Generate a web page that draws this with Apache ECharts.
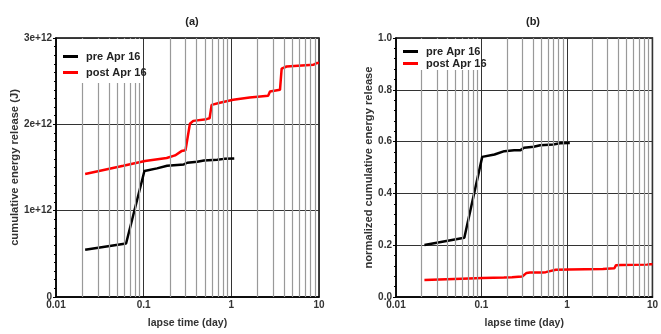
<!DOCTYPE html>
<html><head><meta charset="utf-8">
<script src="https://cdn.jsdelivr.net/npm/echarts@6/dist/echarts.min.js"></script>
<style>html,body{margin:0;padding:0;background:#fff}#c{width:661px;height:334px}</style>
</head><body><div id="c"></div>
<script>
// ---- data ----
const preTime   = [0.0215, 0.063, 0.102, 0.142, 0.185, 0.241, 0.287, 0.314, 0.408, 0.487, 0.69, 0.826, 1.08];
const preEnergy = [0.547, 0.619, 1.46, 1.49, 1.52, 1.53, 1.535, 1.555, 1.567, 1.58, 1.59, 1.60, 1.605]; // x 1e12 J
const preNorm   = [0.201, 0.229, 0.541, 0.550, 0.563, 0.567, 0.567, 0.576, 0.580, 0.586, 0.589, 0.594, 0.595];

const postTime   = [0.0215, 0.0586, 0.1035, 0.183, 0.228, 0.27, 0.30, 0.337, 0.368, 0.52, 0.565, 0.596, 0.74, 1.05, 1.62, 2.63, 2.76, 3.59, 3.75, 4.27, 8.6, 9.4, 10];
const postEnergy = [1.425, 1.52, 1.575, 1.61, 1.64, 1.69, 1.70, 2.007, 2.04, 2.06, 2.07, 2.225, 2.25, 2.285, 2.31, 2.33, 2.38, 2.40, 2.645, 2.67, 2.69, 2.71, 2.71]; // x 1e12 J
const postNorm   = [0.066, 0.0705, 0.073, 0.075, 0.076, 0.078, 0.079, 0.093, 0.095, 0.095, 0.096, 0.103, 0.105, 0.106, 0.107, 0.108, 0.110, 0.111, 0.123, 0.124, 0.125, 0.126, 0.126];

const seriesNames = ['pre Apr 16', 'post Apr 16'];
const panelTitles = ['(a)', '(b)'];
const xTitle = 'lapse time (day)';
const yTitles = ['cumulative energy release (J)', 'normalized cumulative energy release'];
const minorX = [];
[0.01, 0.1, 1].forEach(d => { for (let k = 2; k <= 9; k++) minorX.push(+(d * k).toPrecision(2)); });

// ---- chart ----
const chart = echarts.init(document.getElementById('c'));
const FONT = 'Liberation Sans, Arial, sans-serif';
const pairs = (xs, ys, s) => xs.map((x, i) => [x, ys[i] * s]);

const xAxisBase = (gi) => ({
  type: 'log', logBase: 10, gridIndex: gi, min: 0.01, max: 10,
  name: xTitle, nameLocation: 'middle', nameGap: 21,
  nameTextStyle: { fontFamily: FONT, fontWeight: 'bold', fontSize: 10.5, color: '#333' },
  axisLine: { show: true, lineStyle: { color: '#000', width: 1.5 } },
  axisTick: { show: false },
  axisLabel: { fontFamily: FONT, fontWeight: 'bold', fontSize: 10, color: '#333', margin: 3,
    formatter: v => String(+(+v).toPrecision(1)) },
  splitLine: { show: true, lineStyle: { color: '#333', width: 1 } }
});

const minorMark = {
  silent: true, symbol: 'none', animation: false,
  label: { show: false },
  lineStyle: { color: '#999', type: 'solid', width: 1.2 },
  data: minorX.map(v => ({ xAxis: v }))
};

const lineSeries = (name, data, color, xi, yi, mark) => ({
  name, type: 'line', data, xAxisIndex: xi, yAxisIndex: yi,
  showSymbol: false, symbol: 'none', animation: false,
  lineStyle: { color, width: 2.5 }, itemStyle: { color },
  z: 3, markLine: mark ? minorMark : undefined
});

const legendBase = (left, top, gap) => ({
  data: seriesNames, orient: 'vertical', left, top, itemGap: gap,
  icon: 'rect', itemWidth: 15, itemHeight: 3,
  textStyle: { fontFamily: FONT, fontWeight: 'bold', fontSize: 11, color: '#222', padding: [0, 0, 0, 3] },
  padding: 0, z: 20, selectedMode: false
});

chart.setOption({
  animation: false,
  title: [
    { text: panelTitles[0], left: 187, top: 11, textAlign: 'center', textStyle: { fontFamily: FONT, fontWeight: 'bold', fontSize: 11, color: '#222' } },
    { text: panelTitles[1], left: 528, top: 11, textAlign: 'center', textStyle: { fontFamily: FONT, fontWeight: 'bold', fontSize: 11, color: '#222' } }
  ],
  // white legend boxes that hide the grid lines behind the legends
  graphic: [
    { type: 'rect', left: 57, top: 39, shape: { width: 84, height: 44 }, style: { fill: '#fff' }, z: 10, silent: true },
    { type: 'rect', left: 397, top: 39, shape: { width: 82, height: 31 }, style: { fill: '#fff' }, z: 10, silent: true }
  ],
  legend: [legendBase(63, 51, 5), legendBase(403, 46, 1)],
  grid: [
    { left: 56, top: 38, width: 263, height: 262, show: true, borderColor: '#000', borderWidth: 1.5, backgroundColor: 'transparent' },
    { left: 396, top: 38, width: 262, height: 262, show: true, borderColor: '#000', borderWidth: 1.5, backgroundColor: 'transparent' }
  ],
  xAxis: [xAxisBase(0), xAxisBase(1)],
  yAxis: [
    { type: 'value', gridIndex: 0, min: 0, max: 3e12, interval: 1e12,
      name: yTitles[0], nameLocation: 'middle', nameGap: 36, nameRotate: 90,
      nameTextStyle: { fontFamily: FONT, fontWeight: 'bold', fontSize: 11.2, color: '#333' },
      axisLine: { show: true, lineStyle: { color: '#000', width: 1.5 } },
      axisTick: { show: true, length: 3, lineStyle: { color: '#000' } },
      minorTick: { show: true, splitNumber: 10, length: 2, lineStyle: { color: '#000' } },
      axisLabel: { fontFamily: FONT, fontWeight: 'bold', fontSize: 10, color: '#333', margin: 4,
        formatter: v => v === 0 ? '0' : (v / 1e12) + 'e+12' },
      splitLine: { show: true, lineStyle: { color: '#333', width: 1 } } },
    { type: 'value', gridIndex: 1, min: 0, max: 1, interval: 0.2,
      name: yTitles[1], nameLocation: 'middle', nameGap: 22, nameRotate: 90,
      nameTextStyle: { fontFamily: FONT, fontWeight: 'bold', fontSize: 11.2, color: '#333' },
      axisLine: { show: true, lineStyle: { color: '#000', width: 1.5 } },
      axisTick: { show: true, length: 3, lineStyle: { color: '#000' } },
      minorTick: { show: true, splitNumber: 5, length: 2, lineStyle: { color: '#000' } },
      axisLabel: { fontFamily: FONT, fontWeight: 'bold', fontSize: 10, color: '#333', margin: 4,
        formatter: v => v.toFixed(1) },
      splitLine: { show: true, lineStyle: { color: '#333', width: 1 } } }
  ],
  series: [
    lineSeries(seriesNames[0], pairs(preTime, preEnergy, 1e12), '#000', 0, 0, true),
    lineSeries(seriesNames[1], pairs(postTime, postEnergy, 1e12), '#ff0000', 0, 0, false),
    lineSeries(seriesNames[0], pairs(preTime, preNorm, 1), '#000', 1, 1, true),
    lineSeries(seriesNames[1], pairs(postTime, postNorm, 1), '#ff0000', 1, 1, false)
  ]
});
</script></body></html>
